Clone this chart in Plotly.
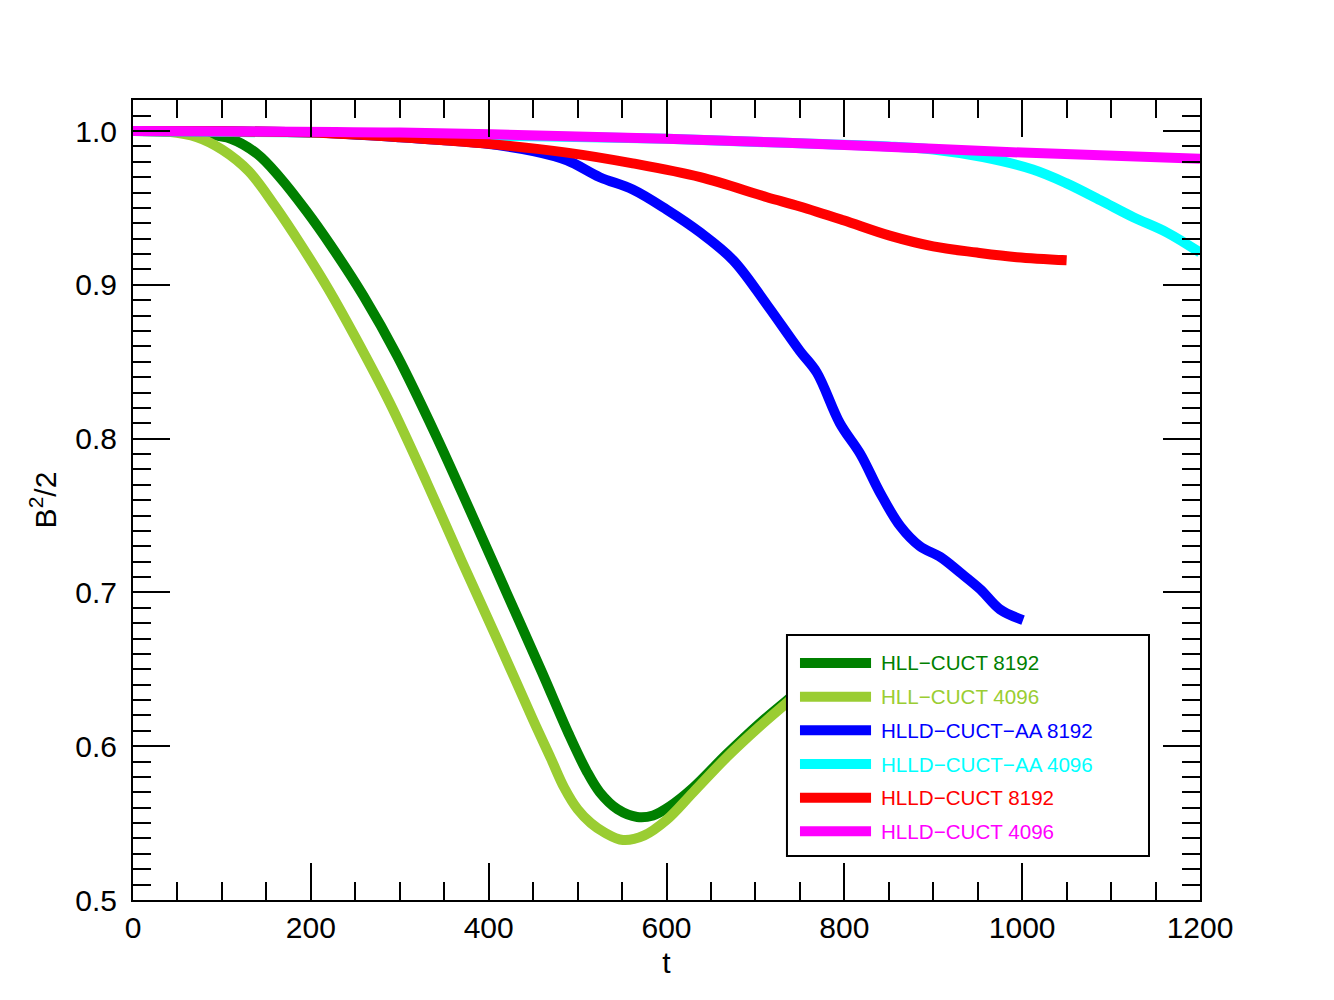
import plotly.graph_objects as go

# ---------------- data ----------------
names = ["HLL\u2212CUCT 8192", "HLL\u2212CUCT 4096", "HLLD\u2212CUCT\u2212AA 8192",
         "HLLD\u2212CUCT\u2212AA 4096", "HLLD\u2212CUCT 8192", "HLLD\u2212CUCT 4096"]
colors = ["#008000", "#9ACD32", "#0000FF", "#00FFFF", "#FF0000", "#FF00FF"]

t_hll_8192 = [0, 50, 80, 110, 140, 165, 195, 222, 259, 297, 340, 380, 420, 460, 490,
              510, 525, 545, 567, 585, 604, 630, 668, 705, 740, 790]
v_hll_8192 = [1.0, 0.9995, 0.998, 0.995, 0.985, 0.970, 0.948, 0.926, 0.893, 0.854, 0.803,
              0.752, 0.700, 0.648, 0.608, 0.584, 0.570, 0.559, 0.554, 0.555, 0.561, 0.573,
              0.595, 0.615, 0.632, 0.656]

t_hll_4096 = [0, 40, 72, 100, 130, 160, 190, 220, 250, 289, 330, 370, 410, 450, 470, 485,
              500, 515, 530, 551, 575, 600, 630, 668, 705, 735, 790]
v_hll_4096 = [1.0, 0.9995, 0.996, 0.988, 0.974, 0.951, 0.925, 0.897, 0.866, 0.823, 0.772,
              0.720, 0.669, 0.617, 0.592, 0.573, 0.559, 0.550, 0.544, 0.539, 0.542, 0.552,
              0.570, 0.593, 0.613, 0.628, 0.655]

t_hlld_aa_8192 = [0, 100, 200, 300, 350, 394, 450, 488, 525, 562, 600, 638, 675, 713, 750,
                  769, 795, 818, 840, 863, 885, 908, 930, 953, 975, 1001]
v_hlld_aa_8192 = [1.0, 0.9998, 0.999, 0.996, 0.994, 0.992, 0.987, 0.981, 0.970, 0.962, 0.949,
                  0.934, 0.916, 0.887, 0.857, 0.843, 0.810, 0.790, 0.765, 0.743, 0.730, 0.723,
                  0.713, 0.702, 0.689, 0.682]

t_hlld_aa_4096 = [0, 200, 400, 600, 750, 850, 900, 956, 1012, 1050, 1088, 1125, 1163, 1200]
v_hlld_aa_4096 = [1.0, 0.999, 0.997, 0.995, 0.992, 0.990, 0.988, 0.983, 0.975, 0.966, 0.955,
                  0.944, 0.934, 0.921]

t_hlld_8192 = [0, 100, 200, 300, 394, 488, 562, 638, 713, 750, 799, 851, 900, 949, 994, 1050]
v_hlld_8192 = [1.0, 0.9998, 0.999, 0.996, 0.992, 0.986, 0.979, 0.970, 0.957, 0.951, 0.942,
               0.932, 0.925, 0.921, 0.918, 0.916]

t_hlld_4096 = [0, 300, 600, 800, 1000, 1200]
v_hlld_4096 = [1.0, 0.999, 0.995, 0.991, 0.986, 0.982]

x_ticks = [0, 200, 400, 600, 800, 1000, 1200]
y_ticks = [0.5, 0.6, 0.7, 0.8, 0.9, 1.0]

series_t = [t_hll_8192, t_hll_4096, t_hlld_aa_8192, t_hlld_aa_4096, t_hlld_8192, t_hlld_4096]
series_v = [v_hll_8192, v_hll_4096, v_hlld_aa_8192, v_hlld_aa_4096, v_hlld_8192, v_hlld_4096]

FONT = "Liberation Sans, Arial, Helvetica, sans-serif"

fig = go.Figure()
for name, col, tt, vv in zip(names, colors, series_t, series_v):
    fig.add_trace(go.Scatter(x=tt, y=vv, mode="lines", name=name,
                             line=dict(color=col, width=10, shape="spline", smoothing=1.0),
                             showlegend=False))

axis_common = dict(
    showgrid=False, zeroline=False, showline=True, linecolor="black", linewidth=2,
    mirror="allticks", ticks="inside", ticklen=37, tickwidth=2, tickcolor="black",
    tickfont=dict(family=FONT, size=30, color="black"),
)

fig.update_xaxes(
    range=[0, 1200], tickvals=x_ticks, ticktext=[str(v) for v in x_ticks],
    minor=dict(dtick=50, ticks="inside", ticklen=18, tickwidth=2, tickcolor="black"),
    title=dict(text="t", font=dict(family=FONT, size=30, color="black"), standoff=9),
    ticklabelstandoff=0,
    **axis_common)
fig.update_yaxes(
    range=[0.5, 1.0202], tickvals=y_ticks, ticktext=["%.1f" % v for v in y_ticks],
    minor=dict(dtick=0.01, tick0=0.5, ticks="inside", ticklen=18, tickwidth=2, tickcolor="black"),
    title=dict(text="B<sup>2</sup>/2", font=dict(family=FONT, size=30, color="black"), standoff=10),
    ticklabelstandoff=8,
    **axis_common)

# ---------------- manual legend box ----------------
lx0, lx1, ly0, ly1 = 0.6129, 0.9522, 0.055, 0.3313
fig.add_shape(type="rect", xref="paper", yref="paper", x0=lx0, x1=lx1, y0=ly0, y1=ly1,
              fillcolor="white", line=dict(color="black", width=2), layer="above")
row0 = 0.2963
drow = 0.0421
for i, (name, col) in enumerate(zip(names, colors)):
    yy = row0 - i * drow
    fig.add_shape(type="line", xref="paper", yref="paper", x0=0.6251, x1=0.6917, y0=yy, y1=yy,
                  line=dict(color=col, width=10), layer="above")
    fig.add_annotation(xref="paper", yref="paper", x=0.6995, y=yy, text=name, showarrow=False,
                       xanchor="left", yanchor="middle",
                       font=dict(family=FONT, size=20.6, color=col))

fig.update_layout(
    width=1334, height=1000,
    margin=dict(l=133, r=134, t=100, b=100),
    paper_bgcolor="white", plot_bgcolor="white",
    font=dict(family=FONT, color="black"),
)

fig.write_html("out.html")
